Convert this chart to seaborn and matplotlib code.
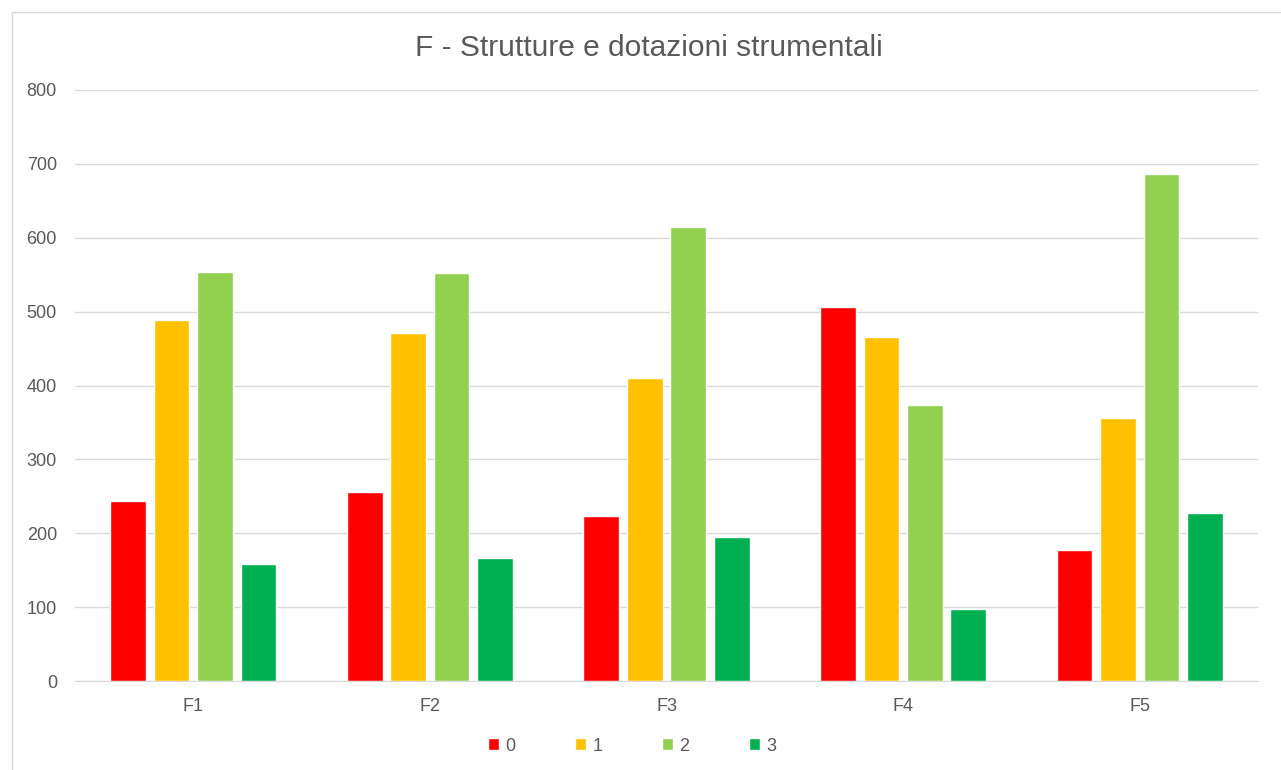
import pandas as pd
import matplotlib.pyplot as plt
import seaborn as sns
from matplotlib.patches import Rectangle

# Data
categories = ["F1", "F2", "F3", "F4", "F5"]
levels = ["0", "1", "2", "3"]
vals_0 = [244, 256, 224, 506, 178]
vals_1 = [488, 471, 410, 465, 356]
vals_2 = [554, 552, 614, 373, 686]
vals_3 = [158, 166, 195, 97, 227]
colors = ["#FF0000", "#FFC000", "#92D050", "#00B050"]

df = pd.DataFrame({
    "cat": categories * 4,
    "level": [l for l in levels for _ in categories],
    "value": vals_0 + vals_1 + vals_2 + vals_3,
})

sns.set_style("white")
plt.rcParams['font.family'] = ['Liberation Sans', 'DejaVu Sans']
text_col = "#595959"

fig = plt.figure(figsize=(12.81, 7.70), dpi=100)
ax = fig.add_axes([75 / 1281, 1 - 681 / 770, (1258 - 75) / 1281, (681 - 90) / 770])

sns.barplot(data=df, x="cat", y="value", hue="level", palette=colors,
            saturation=1, width=0.735, gap=0.18, ax=ax, legend=True)

ax.set_ylim(0, 800)
ax.set_yticks(range(0, 801, 100))
ax.set_xlim(-0.5, 4.5)
ax.yaxis.grid(True, color="#D9D9D9", linewidth=1)
ax.set_axisbelow(True)
for s in ["top", "right", "left"]:
    ax.spines[s].set_visible(False)
ax.spines["bottom"].set_color("#D9D9D9")
ax.tick_params(axis="both", length=0, colors=text_col, labelsize=13)
ax.tick_params(axis="y", pad=13)
ax.tick_params(axis="x", pad=12)
ax.set_xlabel("")
ax.set_ylabel("")

fig.text(649 / 1281, 1 - 48 / 770, "F - Strutture e dotazioni strumentali",
         ha="center", va="center", fontsize=21.5, color=text_col)

handles, labels = ax.get_legend_handles_labels()
ax.legend(handles, labels, loc="center", bbox_to_anchor=(0.471, -0.11),
          ncol=4, frameon=False, fontsize=13, handlelength=0.6, handleheight=0.6,
          handletextpad=0.35, columnspacing=3.3, labelcolor=text_col)

# chart border
fig.patches.append(Rectangle((12 / 1281, -0.01), 1.2, 1 - 12 / 770 + 0.01,
                             transform=fig.transFigure, fill=False,
                             edgecolor="#D9D9D9", linewidth=1))

fig.savefig("out.png", dpi=100)
